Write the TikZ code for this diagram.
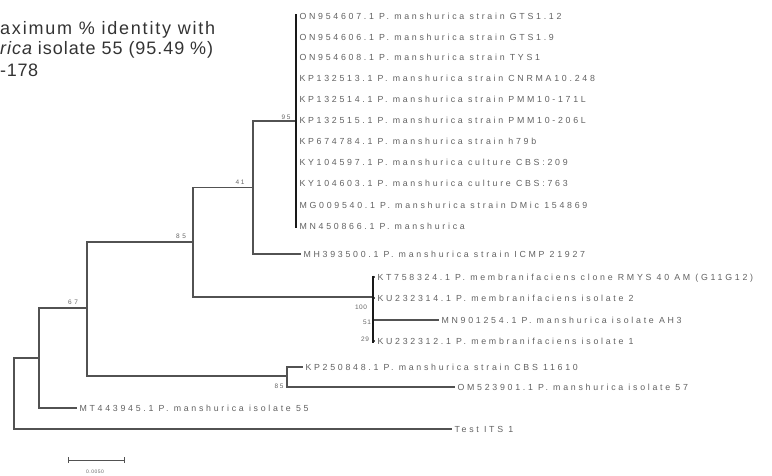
\documentclass[tikz,border=0pt]{standalone}
\usepackage{fontspec}
\setmainfont{Liberation Sans}
\newfontfamily\leaffont{Liberation Sans}
\newlength\lwa
\newlength\lwb
% #1 font size, #2 target width (pt), #3 text
\newcommand\fitls[3]{%
  \settowidth\lwa{\leaffont\fontsize{#1}{#1}\selectfont #3}%
  \settowidth\lwb{\leaffont\fontsize{#1}{#1}\selectfont\addfontfeatures{LetterSpace=20}#3}%
  \pgfmathsetmacro\lsv{20*(#2-\lwa)/(\lwb-\lwa)}%
  {\leaffont\fontsize{#1}{#1}\selectfont\addfontfeatures{LetterSpace=\lsv}#3}}
\newcommand\lfbase{\leaffont\fontsize{8.8}{8.8}\selectfont}
\newcommand\lf[1]{{\lfbase\addfontfeatures{LetterSpace=\lsfix}#1}}
\begin{document}
% one common letter spacing for all taxon labels
\settowidth\lwa{\lfbase ON954607.1 P. manshurica strain GTS1.12}%
\settowidth\lwb{\lfbase\addfontfeatures{LetterSpace=20}ON954607.1 P. manshurica strain GTS1.12}%
\pgfmathsetmacro\lsfix{20*(262-\lwa)/(\lwb-\lwa)}%
\begin{tikzpicture}[x=1pt,y=-1pt,
  br/.style={draw=black!68, line width=1.1pt},
  vbar/.style={draw=black!90, line width=1.5pt},
  leaf/.style={anchor=west, inner xsep=0pt, inner ysep=0pt, outer xsep=2.5pt,
    text height=6.3pt, text depth=0pt, text=black!62},
  boot/.style={inner sep=0pt, text=black!60},
  hdr/.style={anchor=west, inner sep=0pt, text=black!80}]
\useasboundingbox (0,0) rectangle (772,475);

% header text (cut at left edge)
\node[hdr] (h1) at (0,30) {\fitls{18}{215}{aximum \% identity with}};
\node[hdr] (h2) at (0,50) {\fitls{18}{213}{\itshape rica\upshape\ isolate 55 (95.49 \%)}};
\node[hdr] (h3) at (0,70) {\fitls{18}{38}{-178}};

% internal nodes
\coordinate (r) at (14,393.5);
\coordinate (a) at (39,358);
\coordinate (b) at (87,308);
\coordinate (c) at (193,242);
\coordinate (d) at (253,187.5);
\coordinate (e) at (296,121);
\coordinate (f) at (373,297);
\coordinate (g) at (287,376);

% leaves
\node[leaf] (l1)  at (297,16)  {\lf{ON954607.1 P. manshurica strain GTS1.12}};
\node[leaf] (l2)  at (297,37)  {\lf{ON954606.1 P. manshurica strain GTS1.9}};
\node[leaf] (l3)  at (297,57)  {\lf{ON954608.1 P. manshurica strain TYS1}};
\node[leaf] (l4)  at (297,78)  {\lf{KP132513.1 P. manshurica strain CNRMA10.248}};
\node[leaf] (l5)  at (297,99)  {\lf{KP132514.1 P. manshurica strain PMM10-171L}};
\node[leaf] (l6)  at (297,120) {\lf{KP132515.1 P. manshurica strain PMM10-206L}};
\node[leaf] (l7)  at (297,141) {\lf{KP674784.1 P. manshurica strain h79b}};
\node[leaf] (l8)  at (297,162) {\lf{KY104597.1 P. manshurica culture CBS:209}};
\node[leaf] (l9)  at (297,183) {\lf{KY104603.1 P. manshurica culture CBS:763}};
\node[leaf] (l10) at (297,205) {\lf{MG009540.1 P. manshurica strain DMic 154869}};
\node[leaf] (l11) at (297,226) {\lf{MN450866.1 P. manshurica}};
\node[leaf] (l12) at (301,254) {\lf{MH393500.1 P. manshurica strain ICMP 21927}};
\node[leaf] (l13) at (375,277) {\lf{KT758324.1 P. membranifaciens clone RMYS 40 AM (G11G12)}};
\node[leaf] (l14) at (375,298) {\lf{KU232314.1 P. membranifaciens isolate 2}};
\node[leaf] (l15) at (439,320) {\lf{MN901254.1 P. manshurica isolate AH3}};
\node[leaf] (l16) at (375,341) {\lf{KU232312.1 P. membranifaciens isolate 1}};
\node[leaf] (l17) at (303,367) {\lf{KP250848.1 P. manshurica strain CBS 11610}};
\node[leaf] (l18) at (455,387) {\lf{OM523901.1 P. manshurica isolate 57}};
\node[leaf] (l19) at (77,408)  {\lf{MT443945.1 P. manshurica isolate 55}};
\node[leaf] (l20) at (452,429) {\lf{Test ITS 1}};

% branches
\draw[br] (r) |- (a);
\draw[br] (r) |- (l20.west);
\draw[br] (a) |- (b);
\draw[br] (a) |- (l19.west);
\draw[br] (b) |- (c);
\draw[br] (b) |- (g);
\draw[br] (c) |- (d);
\draw[br] (c) |- (f);
\draw[br] (d) |- (e);
\draw[br] (d) |- (l12.west);
\draw[br] (g) |- (l17.west);
\draw[br] (g) |- (l18.west);
\foreach \n in {l1,l2,l3,l4,l5,l6,l7,l8,l9,l10,l11}
  \draw[br] (e |- \n.west) -- (\n.west);
\draw[vbar] ([yshift=2pt]e |- l1.west) -- ([yshift=-2pt]e |- l11.west);
\foreach \n in {l13,l14,l15,l16}
  \draw[br] (f |- \n.west) -- (\n.west);
\draw[vbar] ([yshift=1.5pt]f |- l13.west) -- ([yshift=-2pt]f |- l16.west);

% bootstrap values
\node[boot] (b95)  at (286,117) {\fitls{6.5}{9}{95}};
\node[boot] (b41)  at (240,182) {\fitls{6.5}{9}{41}};
\node[boot] (b85)  at (181,236) {\fitls{6.5}{10}{85}};
\node[boot] (b67)  at (73,302)  {\fitls{6.5}{10}{67}};
\node[boot] (b85b) at (279,386) {\fitls{6.5}{9}{85}};
\node[boot] (b100) at (361,307) {\fitls{6.5}{12}{100}};
\node[boot] (b51)  at (367,322) {\fitls{6.5}{8}{51}};
\node[boot] (b29)  at (365,339) {\fitls{6.5}{8}{29}};

% scale bar
\coordinate (s1) at (68,460);
\coordinate (s2) at (124,460);
\draw[br, line width=0.9pt] (s1) -- (s2);
\draw[br, line width=0.9pt] ([yshift=3pt]s1) -- ([yshift=-3pt]s1);
\draw[br, line width=0.9pt] ([yshift=3pt]s2) -- ([yshift=-3pt]s2);
\node[boot] (sl) at (95,472) {\fitls{5}{18}{0.0050}};
\end{tikzpicture}
\end{document}
